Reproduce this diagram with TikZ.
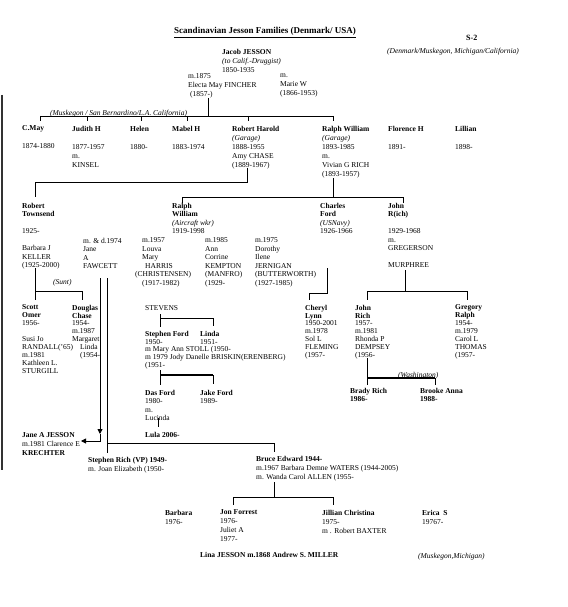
\documentclass[tikz,border=0pt]{standalone}
\usepackage{fontspec}
\setmainfont{Liberation Serif}
\usetikzlibrary{arrows.meta}
\begin{document}
\begin{tikzpicture}[x=1pt,y=-1pt,
  txt/.style={anchor=north west,yshift=5.3pt,inner sep=0pt,align=left},
  lnine/.style={font=\fontsize{7.5}{9}\selectfont},
  lmid/.style={font=\fontsize{7.5}{8.5}\selectfont},
  llow/.style={font=\fontsize{7.5}{7.9}\selectfont},
  ital/.style={font=\itshape\fontsize{7.5}{9}\selectfont},
  ln/.style={line width=0.9pt},
  thk/.style={line width=1.6pt},
  tip/.style={-{Triangle[length=5pt,width=5pt]}}]
\useasboundingbox[fill=white] (0,0) rectangle (567,607);
% scan edge
\draw[line width=1.1pt, black!80] (2,95) -- (2,470);

% header
\node[txt,anchor=base,yshift=0pt,font=\bfseries\fontsize{9}{10}\selectfont] (title) at (265,39) {\underline{Scandinavian Jesson Families (Denmark/ USA)}};
\node[txt,font=\bfseries\fontsize{8}{9}\selectfont] (s2) at (466,40) {S-2};
\node[txt,ital] (loc) at (387,53) {(Denmark/Muskegon, Michigan/California)};

\node[txt,lnine] (jacob) at (222,54) {\textbf{Jacob JESSON}\\\textit{(to Calif.-Druggist)}\\1850-1935};
\node[txt,lnine] (electa) at (188,79) {m.1875\\Electa May FINCHER\\\hspace*{2pt}(1857-)};
\node[txt,lnine] (marie) at (280,79) {m.\\Marie W\\(1866-1953)};
\node[txt,ital] (musk) at (50,115) {(Muskegon / San Bernardino/L.A. California)};

% generation 2
\node[txt,lnine] (cmay) at (22,131) {\textbf{C.May}\\[9pt]1874-1880};
\node[txt,lnine] (judith) at (72,131) {\textbf{Judith H}\\[9pt]1877-1957\\m.\\KINSEL};
\node[txt,lnine] (helen) at (130,131) {\textbf{Helen}\\[9pt]1880-};
\node[txt,lnine] (mabel) at (172,131) {\textbf{Mabel H}\\[9pt]1883-1974};
\node[txt,lnine] (robh) at (232,131) {\textbf{Robert Harold}\\\textit{(Garage)}\\1888-1955\\Amy CHASE\\(1889-1967)};
\node[txt,lnine] (ralphw) at (322,131) {\textbf{Ralph William}\\\textit{(Garage)}\\1893-1985\\m.\\Vivian G RICH\\(1893-1957)};
\node[txt,lnine] (flor) at (388,131) {\textbf{Florence H}\\[9pt]1891-};
\node[txt,lnine] (lill) at (455,131) {\textbf{Lillian}\\[9pt]1898-};

% generation 3
\node[txt,lmid] (robt) at (22,208) {\textbf{Robert}\\\textbf{Townsend}\\[8.5pt]1925-\\[8.5pt]Barbara J\\KELLER\\(1925-2000)};
\node[txt,lmid] (jane) at (83,243) {m. \& d.1974\\Jane\\A\\FAWCETT};
\node[txt,lmid] (louva) at (142,243) {m.1957\\Louva\\Mary\\\hspace*{3pt}HARRIS\\\hspace*{-7pt}(CHRISTENSEN)\\(1917-1982)};
\node[txt,lmid] (ralpha) at (172,208) {\textbf{Ralph}\\\textbf{William}\\\textit{(Aircraft wkr)}\\1919-1998};
\node[txt,lmid] (ann) at (205,243) {m.1985\\Ann\\Corrine\\KEMPTON\\(MANFRO)\\(1929-};
\node[txt,lmid] (dorothy) at (255,243) {m.1975\\Dorothy\\Ilene\\JERNIGAN\\(BUTTERWORTH)\\(1927-1985)};
\node[txt,lmid] (charles) at (320,208) {\textbf{Charles}\\\textbf{Ford}\\\textit{(USNavy)}\\1926-1966};
\node[txt,lmid] (john) at (388,208) {\textbf{John}\\\textbf{R(ich)}\\[8.5pt]1929-1968\\m.\\GREGERSON\\[8.5pt]MURPHREE};
\node[txt,ital] (sunt) at (53,284) {(Sunt)};

% generation 4
\node[txt,llow] (scott) at (22,310) {\textbf{Scott}\\\textbf{Omer}\\1956-\\[7.9pt]Susi Jo\\RANDALL('65)\\m.1981\\Kathleen L.\\STURGILL};
\node[txt,llow] (douglas) at (72,310) {\textbf{Douglas}\\\textbf{Chase}\\1954-\\m.1987\\Margaret\\\hspace*{8pt}Linda\\\hspace*{8pt}(1954-};
\node[txt,llow] (stevens) at (145,311) {STEVENS};
\node[txt,llow] (stephf) at (145,336) {\textbf{Stephen Ford}\\1950-\\m Mary Ann STOLL (1950-\\m 1979 Jody Danelle BRISKIN(ERENBERG)\\(1951-};
\node[txt,llow] (linda) at (200,336) {\textbf{Linda}\\1951-};
\node[txt,lmid] (das) at (145,395) {\textbf{Das Ford}\\1980-\\m.\\Lucinda\\[8.5pt]\textbf{Lula 2006-}};
\node[txt,lmid] (jake) at (200,395) {\textbf{Jake Ford}\\1989-};
\node[txt,llow] (cheryl) at (305,310) {\textbf{Cheryl}\\\textbf{Lynn}\\1950-2001\\m.1978\\Sol L\\FLEMING\\(1957-};
\node[txt,llow] (johnr) at (355,310) {\textbf{John}\\\textbf{Rich}\\1957-\\m.1981\\Rhonda P\\DEMPSEY\\(1956-};
\node[txt,llow] (greg) at (455,310) {\textbf{Gregory}\\\textbf{Ralph}\\1954-\\m.1979\\Carol L\\THOMAS\\(1957-};
\node[txt,ital] (wash) at (398,377) {(Washington)};
\node[txt,llow] (brady) at (350,393) {\textbf{Brady Rich}\\\textbf{1986-}};
\node[txt,llow] (brooke) at (420,393) {\textbf{Brooke Anna}\\\textbf{1988-}};

\node[txt,lnine] (janej) at (22,438) {\textbf{Jane A JESSON}\\m.1981 Clarence E\\\textbf{KRECHTER}};
\node[txt,lnine] (stephr) at (88,462) {\textbf{Stephen Rich (VP) 1949-}\\m. Joan Elizabeth (1950-};
\node[txt,lnine] (bruce) at (256,461) {\textbf{Bruce Edward 1944-}\\m.1967 Barbara Demne WATERS (1944-2005)\\m. Wanda Carol ALLEN (1955-};

\node[txt,lnine] (barbara) at (165,515) {\textbf{Barbara}\\1976-};
\node[txt,lnine] (jon) at (220,515) {\textbf{Jon Forrest}\\1976-\\Juliet A\\1977-};
\node[txt,lnine] (jillian) at (322,515) {\textbf{Jillian Christina}\\1975-\\m . Robert BAXTER};
\node[txt,lnine] (erica) at (422,515) {\textbf{Erica\ \ S}\\19767-};
\node[txt,lnine] (lina) at (200,557) {\textbf{Lina JESSON m.1868 Andrew S. MILLER}};
\node[txt,ital] (muskm) at (418,558) {(Muskegon,Michigan)};

% ---- connectors ----
% Jacob + Electa -> children
\coordinate (eTop) at (208,98);
\coordinate (eBar) at (208,116);
\draw[ln] (eTop) -- (eBar);
\draw[ln] (40,116) -- (333,116);
\foreach \x/\n in {40/cm,87/ju,141/he,187/ma,248/rh,333/rw}
  {\coordinate (t\n) at (\x,116); \draw[ln] (t\n) -- ++(0,5);}

% Robert Harold -> Robert Townsend
\coordinate (rhA) at (247,168); \coordinate (rhB) at (247,182);
\coordinate (rtA) at (35,182); \coordinate (rtB) at (35,197);
\draw[ln] (rhA) -- (rhB) -- (rtA) -- (rtB);

% Ralph William -> Ralph, Charles, John
\coordinate (rwA) at (333,178); \coordinate (rwB) at (333,197);
\coordinate (g3L) at (182,197); \coordinate (g3R) at (403,197);
\draw[ln] (rwA) -- (rwB);
\draw[ln] (g3L) -- (g3R);
\draw[ln] (g3L) -- ++(0,6);
\draw[ln] (g3R) -- ++(0,6);

% Robert Townsend -> Scott, Douglas
\coordinate (btA) at (35,268); \coordinate (btB) at (35,300);
\coordinate (btC) at (35,291); \coordinate (btD) at (82,291);
\draw[ln] (btA) -- (btB);
\draw[ln] (btC) -- (btD) -- ++(0,9);

% Jane Fawcett arrows and children
\coordinate (jfA) at (100,278); \coordinate (jfB) at (100,434);
\coordinate (jfC) at (81,441);
\draw[ln,tip] (jfA) -- (jfB);
\draw[ln,tip] (jfB) |- (jfC);
\coordinate (jkA) at (107,278); \coordinate (jkB) at (107,443);
\coordinate (jkC) at (274,443);
\draw[ln] (jkA) -- (jkB) -- (jkC);
\draw[ln] (jkB) -- ++(0,10);
\draw[ln] (jkC) -- ++(0,9);

% STEVENS bracket
\coordinate (stA) at (160,314); \coordinate (stB) at (160,327);
\coordinate (stC) at (160,318); \coordinate (stD) at (213,318);
\draw[ln] (stA) -- (stB);
\draw[ln] (stC) -- (stD) -- ++(0,8);

% Stephen Ford -> Das, Jake
\coordinate (sfA) at (160,370); \coordinate (sfB) at (160,385);
\coordinate (sfC) at (160,375); \coordinate (sfD) at (213,375);
\draw[ln] (sfA) -- (sfB);
\draw[thk] (sfC) -- (sfD);
\draw[ln] (sfD) -- ++(0,9);
% Lucinda -> Lula
\draw[ln] (158,418) -- (158,427);

% Charles -> Cheryl
\coordinate (chA) at (327,268); \coordinate (chB) at (327,293);
\coordinate (chC) at (309,293);
\draw[ln] (chA) -- (chB) -- (chC) -- ++(0,7);

% John R -> John Rich, Gregory
\coordinate (jrA) at (405,270); \coordinate (jrB) at (405,291);
\coordinate (jrL) at (367,291); \coordinate (jrR) at (467,291);
\draw[ln] (jrA) -- (jrB);
\draw[ln] (jrL) -- (jrR);
\draw[ln] (jrL) -- ++(0,9);
\draw[ln] (jrR) -- ++(0,9);

% John Rich -> Brady, Brooke
\coordinate (jbA) at (367,358); \coordinate (jbB) at (367,385);
\coordinate (jbC) at (367,378); \coordinate (jbD) at (435,378);
\draw[ln] (jbA) -- (jbB);
\draw[thk] (jbC) -- (jbD);
\draw[ln] (jbD) -- ++(0,7);

% Bruce -> children
\coordinate (brA) at (274,482); \coordinate (brB) at (274,497);
\coordinate (brL) at (233,497); \coordinate (brR) at (333,497);
\draw[ln] (brA) -- (brB);
\draw[ln] (brL) -- (brR);
\draw[ln] (brL) -- ++(0,8);
\draw[ln] (brR) -- ++(0,8);
\end{tikzpicture}
\end{document}
